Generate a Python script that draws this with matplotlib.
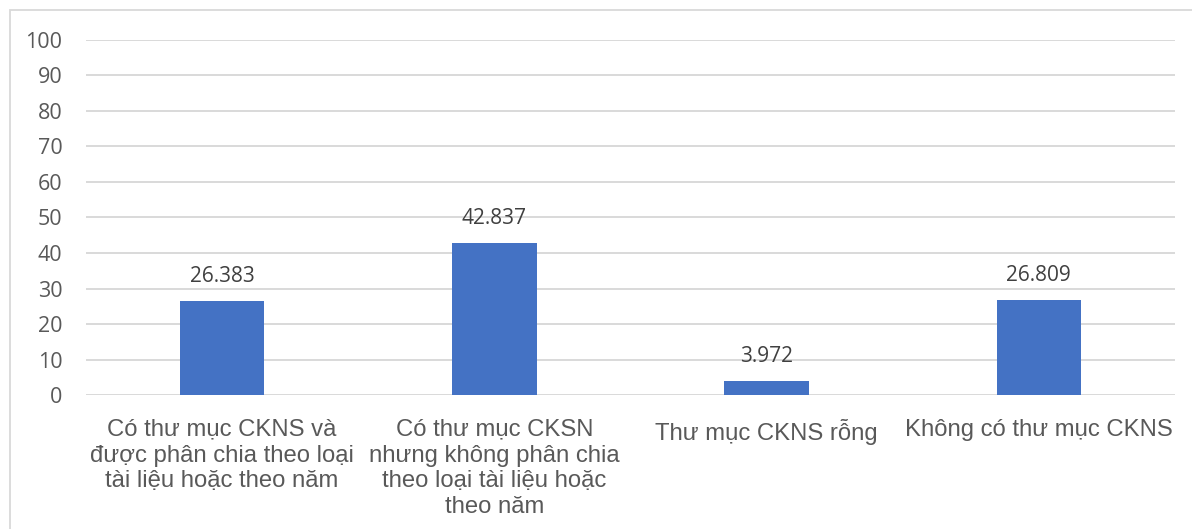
import matplotlib.pyplot as plt
from matplotlib.patches import Rectangle

# Categories and values
categories = [
    "Có thư mục CKNS và\nđược phân chia theo loại\ntài liệu hoặc theo năm",
    "Có thư mục CKSN\nnhưng không phân chia\ntheo loại tài liệu hoặc\ntheo năm",
    "Thư mục CKNS rỗng",
    "Không có thư mục CKNS",
]
values = [26.383, 42.837, 3.972, 26.809]
value_labels = ["26.383", "42.837", "3.972", "26.809"]
yticks = [0, 10, 20, 30, 40, 50, 60, 70, 80, 90, 100]

fig = plt.figure(figsize=(11.92, 5.29), dpi=100)
ax = fig.add_axes([0.0721, 0.2533, 0.9136, 0.6711])

# Outer chart border
fig.patches.append(Rectangle((10 / 1192, -0.01), 1.0, 1 - 10 / 529 + 0.01,
                             transform=fig.transFigure, fill=False,
                             edgecolor="#d9d9d9", linewidth=1.3))

x = range(len(categories))
ax.bar(x, values, width=0.31, color="#4472C4", zorder=3)

for xi, v, lab in zip(x, values, value_labels):
    ax.text(xi, v + 4.0, lab, ha="center", va="bottom", fontsize=15,
            family="Open Sans", color="#404040")

ax.set_xlim(-0.5, 3.5)
ax.set_ylim(0, 100)
ax.set_yticks(yticks)
ax.set_yticklabels([str(t) for t in yticks], fontsize=15.5, family="Open Sans",
                   color="#595959")
ax.set_xticks(list(x))
ax.set_xticklabels(categories, fontsize=17.2, family="Liberation Sans",
                   color="#595959", linespacing=1.23)
ax.tick_params(axis="both", length=0)
ax.tick_params(axis="y", pad=17)
ax.tick_params(axis="x", pad=17)

ax.grid(axis="y", color="#d9d9d9", linewidth=1.4, zorder=0)
for s in ax.spines.values():
    s.set_visible(False)

fig.savefig("out.png", dpi=100)
